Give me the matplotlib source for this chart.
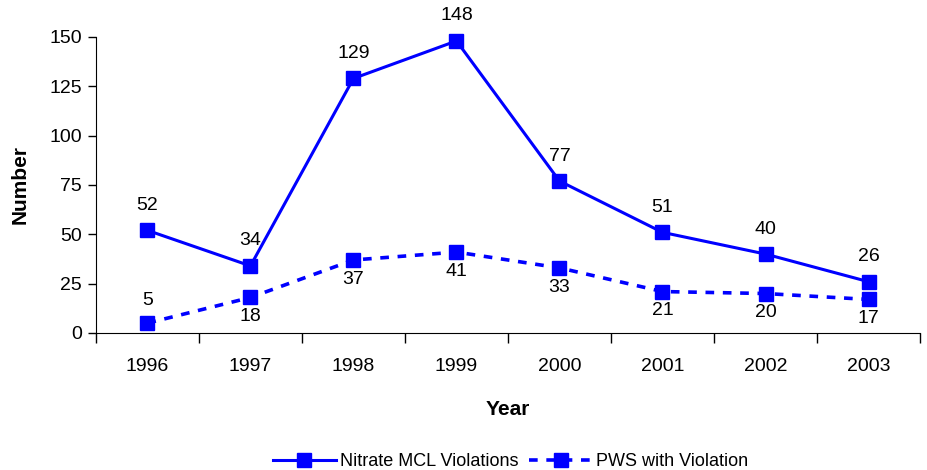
import matplotlib
matplotlib.use("Agg")
import matplotlib.pyplot as plt

years = ["1996", "1997", "1998", "1999", "2000", "2001", "2002", "2003"]
nitrate = [52, 34, 129, 148, 77, 51, 40, 26]
pws = [5, 18, 37, 41, 33, 21, 20, 17]
pws_label_above = [True, False, False, False, False, False, False, False]

plt.rcParams['font.family'] = ['Liberation Sans Narrow', 'Liberation Sans', 'DejaVu Sans']
blue = "#0000FF"

fig = plt.figure(figsize=(9.28, 4.7), dpi=100)
ax = fig.add_axes([0.1034, 0.2915, 0.888, 0.6298])

x = list(range(len(years)))
ax.plot(x, nitrate, color=blue, lw=2.2, marker="s", ms=10, label="Nitrate MCL Violations",
        clip_on=False)
ax.plot(x, pws, color=blue, lw=2.6, ls=(0, (2.4, 2.4)), marker="s", ms=10,
        label="PWS with Violation", clip_on=False)

# 数值标签
for i, v in enumerate(nitrate):
    ax.annotate(str(v), (i, v), xytext=(0, 18), textcoords="offset points",
                ha="center", va="center", fontsize=14)
for i, v in enumerate(pws):
    if pws_label_above[i]:
        ax.annotate(str(v), (i, v), xytext=(0, 16), textcoords="offset points",
                    ha="center", va="center", fontsize=14)
    else:
        ax.annotate(str(v), (i, v), xytext=(0, -14), textcoords="offset points",
                    ha="center", va="center", fontsize=14)

ax.set_xlim(-0.5, 7.5)
ax.set_ylim(0, 150)
ax.set_yticks(range(0, 151, 25))
ax.set_xticks(x)
ax.set_xticklabels(years)
ax.set_xticks([i - 0.5 for i in range(len(years) + 1)], minor=True)
ax.tick_params(axis="x", which="major", length=0, pad=18, labelsize=14)
ax.tick_params(axis="x", which="minor", length=7, width=1)
ax.tick_params(axis="y", length=6, width=1, labelsize=14, pad=4)
ax.spines["top"].set_visible(False)
ax.spines["right"].set_visible(False)
ax.set_xlabel("Year", fontsize=15, fontweight="bold", labelpad=18)
ax.set_ylabel("Number", fontsize=15, fontweight="bold", labelpad=14)

fig.legend(loc="lower center", bbox_to_anchor=(0.55, -0.035), ncol=2, frameon=False,
           fontsize=13, handlelength=3.5, handletextpad=0.2, columnspacing=0.6)

plt.savefig("out.png", dpi=100)
